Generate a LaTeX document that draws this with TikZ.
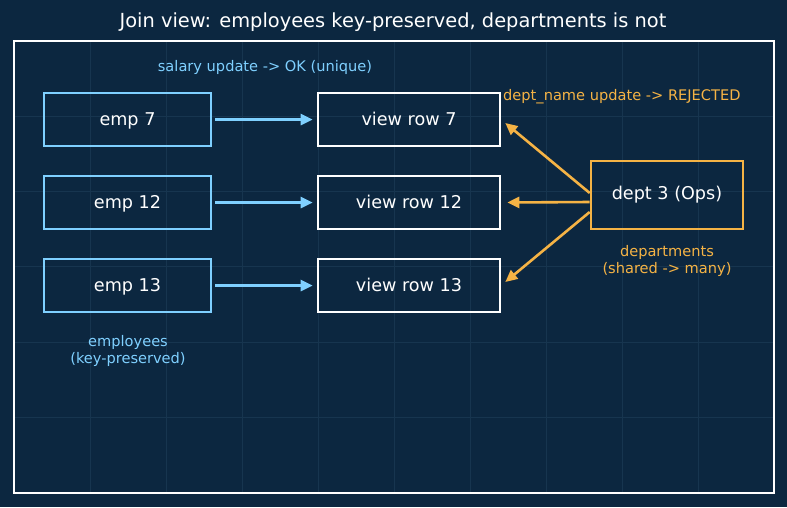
\documentclass[tikz,border=0pt]{standalone}
\usepackage{fontspec}
\setmainfont{DejaVu Sans}
\usetikzlibrary{arrows.meta}
\definecolor{bg}{HTML}{0C2740}
\definecolor{gridc}{HTML}{17354F}
\definecolor{eblue}{HTML}{7FD0FF}
\definecolor{dorange}{HTML}{F5B345}
\tikzset{
  box/.style={draw, line width=2.6pt, minimum height=53pt, text=white, font=\fontsize{17.6}{20}\selectfont, inner sep=0pt, text height=13.4pt, text depth=0.5pt},
  empbox/.style={box, draw=eblue, minimum width=167pt},
  viewbox/.style={box, draw=white, minimum width=182pt},
  deptbox/.style={box, draw=dorange, minimum width=152pt, minimum height=68pt, text depth=3.5pt},
  blab/.style={text=eblue, font=\fontsize{14.6}{17}\selectfont, align=center},
  olab/.style={text=dorange, font=\fontsize{14.6}{17}\selectfont, align=center},
  barr/.style={draw=eblue, line width=2.6pt, -{Stealth[length=12pt,width=11pt,inset=0pt]}},
  oarr/.style={draw=dorange, line width=2.6pt, -{Stealth[length=12pt,width=11pt,inset=0pt]}},
}
\begin{document}
\begin{tikzpicture}[x=1pt,y=-1pt]
\fill[bg] (0,0) rectangle (787,507);
\useasboundingbox (0,0) rectangle (787,507);
\foreach \i in {1,...,9} \draw[gridc, line width=1pt] (14+76*\i,41) -- (14+76*\i,493);
\foreach \j in {1,...,5} \draw[gridc, line width=1pt] (14,41+75.33*\j) -- (774,41+75.33*\j);
\draw[white, line width=1.1pt] (14,41) rectangle (774,493);
\node[text=white, font=\fontsize{19.4}{23}\selectfont] (title) at (393,22.5) {Join view: employees key-preserved, departments is not};

\node[empbox] (e7) at (127.5,119.5) {emp 7};
\node[empbox] (e12) at (127.5,202.5) {emp 12};
\node[empbox] (e13) at (127.5,285.5) {emp 13};
\node[viewbox] (v7) at (409,119.5) {view row 7};
\node[viewbox] (v12) at (409,202.5) {view row 12};
\node[viewbox] (v13) at (409,285.5) {view row 13};
\node[deptbox] (d3) at (667,195) {dept 3 (Ops)};

\node[blab] (sal) at (265,67) {salary update -> OK (unique)};
\node[olab, anchor=west, inner sep=0pt] (rej) at (503,97) {dept\_name update -> REJECTED};
\node[blab] (emplab) at (128,351) {employees\\(key-preserved)};
\node[olab] (deplab) at (667,261) {departments\\(shared -> many)};

\draw[barr] ([xshift=3pt]e7.east) -- ([xshift=-4pt]v7.west);
\draw[barr] ([xshift=3pt]e12.east) -- ([xshift=-4pt]v12.west);
\draw[barr] ([xshift=3pt]e13.east) -- ([xshift=-4pt]v13.west);
\draw[oarr] ([yshift=2pt]d3.west) -- ([xshift=4pt,yshift=-3.5pt]v7.east);
\draw[oarr] ([yshift=-7pt]d3.west) -- ([xshift=6pt]v12.east);
\draw[oarr] ([yshift=-17pt]d3.west) -- ([xshift=4pt,yshift=3.5pt]v13.east);
\end{tikzpicture}
\end{document}
